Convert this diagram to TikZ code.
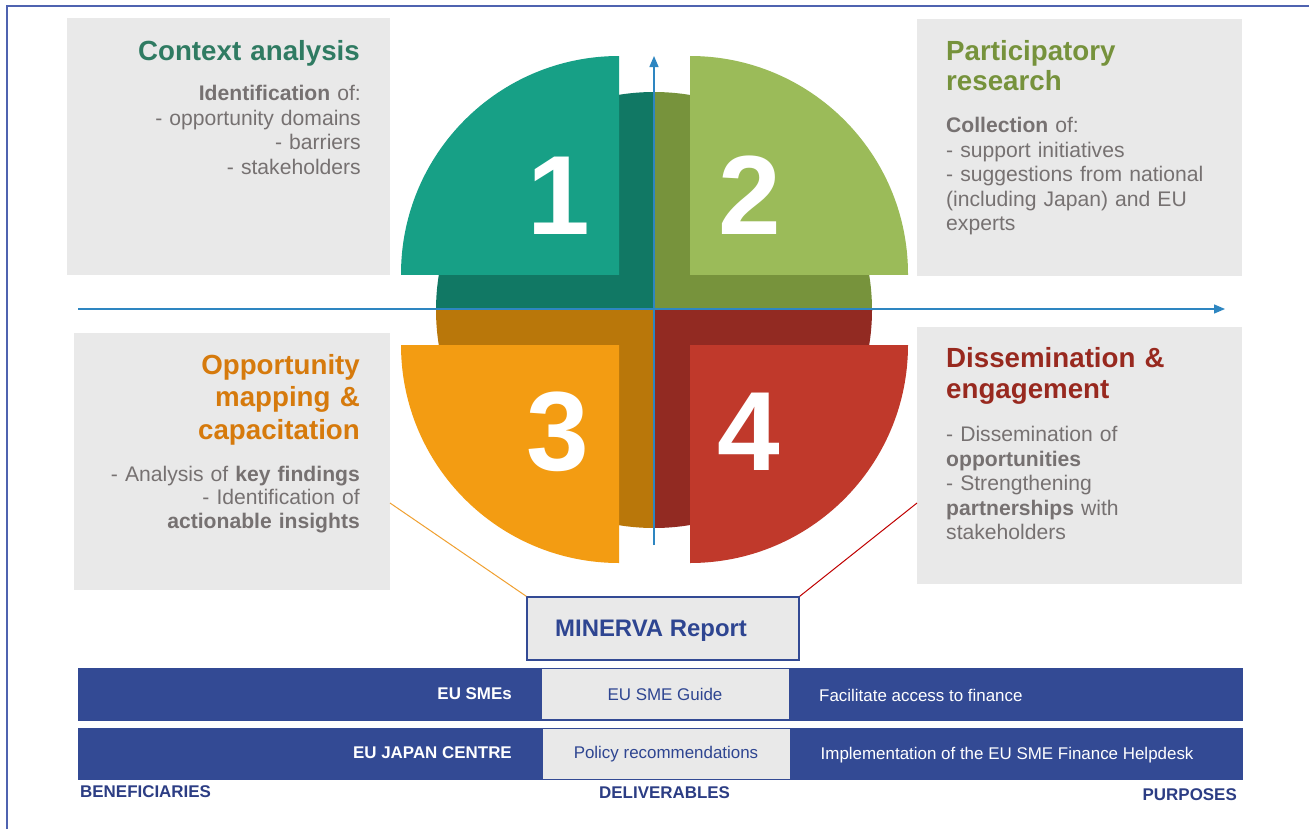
\documentclass[tikz,border=0pt]{standalone}
\usepackage{fontspec}
\setmainfont{Liberation Sans}
\usetikzlibrary{arrows.meta}
\definecolor{framecol}{HTML}{4F63B0}
\definecolor{boxgray}{HTML}{E9E9E9}
\definecolor{bodygray}{HTML}{767171}
\definecolor{tealc}{HTML}{17A086}
\definecolor{tealdark}{HTML}{117864}
\definecolor{greenc}{HTML}{9BBB59}
\definecolor{greendark}{HTML}{77933C}
\definecolor{orangec}{HTML}{F39C12}
\definecolor{orangedark}{HTML}{B9770A}
\definecolor{redc}{HTML}{C0392B}
\definecolor{reddark}{HTML}{922A22}
\definecolor{tone}{HTML}{2F7B62}
\definecolor{ttwo}{HTML}{76923C}
\definecolor{tthree}{HTML}{D67A0C}
\definecolor{tfour}{HTML}{98291F}
\definecolor{axisblue}{HTML}{2E86C1}
\definecolor{barblue}{HTML}{334A94}
\definecolor{navytext}{HTML}{2E4591}
\definecolor{labelblue}{HTML}{2C3D84}
\definecolor{linkorange}{HTML}{F0A030}
\definecolor{linkred}{HTML}{C00000}
\begin{document}
\begin{tikzpicture}[x=1bp,y=-1bp,
  graybox/.style={fill=boxgray},
  titletext/.style={font=\fontsize{27.8}{30.5}\selectfont\bfseries, text width=320bp, inner sep=0pt},
  bodytext/.style={font=\fontsize{21.2}{24.6}\selectfont, text=bodygray, text width=330bp, inner sep=0pt},
  rightblock/.style={align=right, anchor=base east},
  leftblock/.style={align=left, anchor=base west},
  digit/.style={font=\bfseries\fontsize{113}{113}\selectfont, text=white, anchor=base, inner sep=0pt},
  axisline/.style={draw=axisblue, line width=1.4bp, -{Triangle[length=11bp,width=9bp]}},
  bartext/.style={font=\bfseries\fontsize{17}{17}\selectfont, text=white, inner sep=0pt},
  midtext/.style={font=\fontsize{17}{17}\selectfont, text=navytext, inner sep=0pt},
  purptext/.style={font=\fontsize{17}{17}\selectfont, text=white, inner sep=0pt},
  midbox/.style={draw=barblue, line width=1.5bp, fill=boxgray},
  minervabox/.style={draw=barblue, line width=1.5bp, fill=boxgray, minimum width=272bp, minimum height=63bp, inner sep=0pt},
  footlabel/.style={font=\bfseries\fontsize{17}{17}\selectfont, text=labelblue, inner sep=0pt}
]
\useasboundingbox (0,0) rectangle (1309,829);
\fill[white] (0,0) rectangle (1309,829);
% frame
\draw[framecol, line width=2bp] (7,829) -- (7,5.7) -- (1309,5.7);

% gray boxes
\fill[graybox] (67,18) rectangle (390,275);
\fill[graybox] (917,19) rectangle (1242,276);
\fill[graybox] (74,333) rectangle (390,590);
\fill[graybox] (917,327) rectangle (1242,584);

% inner circle quadrants
\begin{scope}\clip (400,50) rectangle (654,310); \fill[tealdark] (654,310) circle (218); \end{scope}
\begin{scope}\clip (654,50) rectangle (910,310); \fill[greendark] (654,310) circle (218); \end{scope}
\begin{scope}\clip (400,310) rectangle (654,570); \fill[orangedark] (654,310) circle (218); \end{scope}
\begin{scope}\clip (654,310) rectangle (910,570); \fill[reddark] (654,310) circle (218); \end{scope}

% outer quarter pieces
\begin{scope}\clip (400,50) rectangle (619,274); \fill[tealc] (619,274) circle (218); \end{scope}
\begin{scope}\clip (690,50) rectangle (910,274); \fill[greenc] (690,274) circle (218); \end{scope}
\begin{scope}\clip (400,345) rectangle (619,570); \fill[orangec] (619,345) circle (218); \end{scope}
\begin{scope}\clip (690,345) rectangle (910,570); \fill[redc] (690,345) circle (218); \end{scope}

% digits
\node[digit] (n1) at (558.6,234.6) {1};
\node[digit] (n2) at (749.6,234.6) {2};
\node[digit] (n3) at (558,470.5) {3};
\node[digit] (n4) at (749,470.5) {4};

% axes
\coordinate (hstart) at (78,309);
\coordinate (hend) at (1225,309);
\coordinate (vstart) at (654,545);
\coordinate (vend) at (654,56);
\draw[axisline] (hstart) -- (hend);
\draw[axisline] (vstart) -- (vend);

% box texts
\node[titletext, text=tone, rightblock] (title1) at (360,60) {Context analysis};
\node[bodytext, rightblock] (body1) at (361,100.7) {\textbf{Identification} of:\\- opportunity domains\\- barriers\\- stakeholders};

\node[titletext, text=ttwo, leftblock] (title2) at (946,60) {Participatory\\research};
\node[bodytext, leftblock] (body2) at (946,132.7) {\textbf{Collection} of:\\- support initiatives\\- suggestions from national\\(including Japan) and EU\\experts};

\node[titletext, text=tthree, rightblock, font=\fontsize{27.8}{32.7}\selectfont\bfseries] (title3) at (360,374) {Opportunity\\mapping \&\\capacitation};
\node[bodytext, rightblock, font=\fontsize{21.2}{23.8}\selectfont] (body3) at (360,481) {- Analysis of \textbf{key findings}\\- Identification of\\\textbf{actionable insights}};

\node[titletext, text=tfour, leftblock] (title4) at (946,367.7) {Dissemination \&\\engagement};
\node[bodytext, leftblock] (body4) at (946,441.7) {- Dissemination of\\\textbf{opportunities}\\- Strengthening\\\textbf{partnerships} with\\stakeholders};

% MINERVA report
\node[minervabox] (minerva) at (663,628.5) {};
\node[font=\bfseries\fontsize{24}{24}\selectfont, text=navytext, anchor=base west, inner sep=0pt] (minervatext) at (555,636) {MINERVA Report};
\coordinate (c3) at (390,503);
\coordinate (c4) at (917,503);
\draw[linkorange, line width=1bp] (c3) -- (minerva.north west);
\draw[linkred, line width=1bp] (c4) -- (minerva.north east);

% bars
\fill[barblue] (77.5,668) rectangle (1243,720.5);
\fill[barblue] (77.5,728) rectangle (1243,780);
\draw[midbox] (541,668.5) rectangle (789.5,720);
\draw[midbox] (542,728.5) rectangle (791,779.5);

\node[bartext, anchor=base east] (smes) at (512,699.5) {EU SMEs};
\node[bartext, anchor=base east] (centre) at (512,758) {EU JAPAN CENTRE};
\node[midtext, anchor=base] (guide) at (665,700) {EU SME Guide};
\node[midtext, anchor=base] (policy) at (666,758) {Policy recommendations};
\node[purptext, anchor=base west] (finance) at (819,701) {Facilitate access to finance};
\node[purptext, anchor=base west] (helpdesk) at (820.5,759.3) {Implementation of the EU SME Finance Helpdesk};

% footer labels
\node[footlabel, anchor=base west] (benef) at (80,797) {BENEFICIARIES};
\node[footlabel, anchor=base west] (deliv) at (599,798.5) {DELIVERABLES};
\node[footlabel, anchor=base east] (purp) at (1237,800.5) {PURPOSES};
\end{tikzpicture}
\end{document}
